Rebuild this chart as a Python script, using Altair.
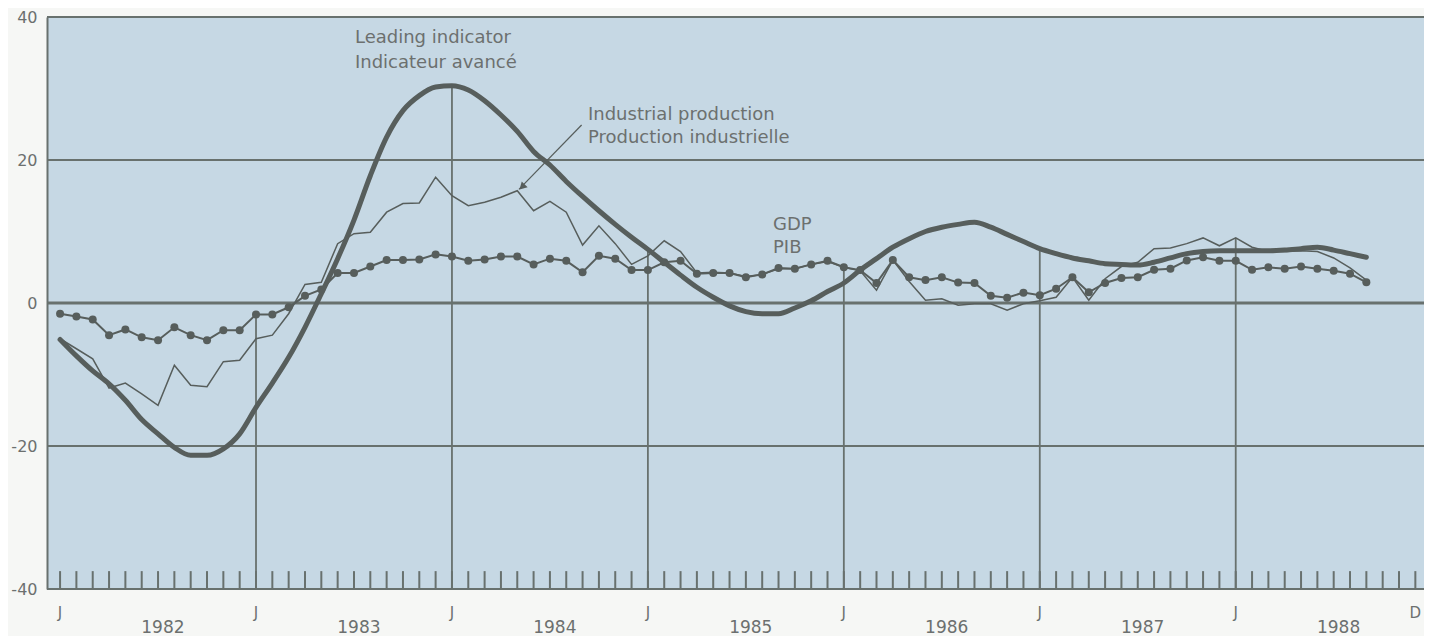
import altair as alt
import pandas as pd

# ---------------- data (month index 0 = Jan 1982) ----------------
MONTHS = list(range(81))

LEADING = [-5.1, -7.4, -9.5, -11.3, -13.6, -16.3, -18.3, -20.2, -21.3, -21.3,
           -20.4, -18.3, -14.6, -11.2, -7.6, -3.4, 1.3, 6.2, 11.6, 17.8,
           23.2, 26.9, 29.0, 30.2, 30.4, 29.8, 28.3, 26.3, 24.0, 21.2,
           19.3, 17.0, 14.9, 12.9, 11.0, 9.2, 7.5, 5.7, 3.9, 2.2,
           0.8, -0.4, -1.2, -1.5, -1.5, -0.7, 0.3, 1.6, 2.8, 4.6,
           6.2, 7.8, 9.0, 10.0, 10.6, 11.0, 11.3, 10.6, 9.6, 8.6,
           7.6, 6.9, 6.3, 5.9, 5.5, 5.4, 5.3, 5.7, 6.3, 6.9,
           7.2, 7.3, 7.3, 7.3, 7.3, 7.4, 7.6, 7.8, 7.4, 6.9,
           6.4]

INDUSTRIAL = [-5.0, -6.4, -7.8, -11.9, -11.2, -12.7, -14.3, -8.7, -11.5, -11.7,
              -8.2, -8.0, -5.0, -4.5, -1.5, 2.6, 2.9, 8.3, 9.7, 9.9,
              12.7, 13.9, 14.0, 17.6, 15.0, 13.6, 14.1, 14.8, 15.7, 12.9,
              14.2, 12.7, 8.1, 10.8, 8.3, 5.4, 6.6, 8.7, 7.2, 4.2,
              4.3, 4.2, 3.7, 4.0, 4.8, 4.8, 5.4, 5.8, 5.0, 4.5,
              1.8, 6.0, 3.0, 0.4, 0.6, -0.3, -0.1, -0.1, -1.0, -0.1,
              0.3, 0.8, 3.6, 0.4, 3.4, 5.1, 5.7, 7.6, 7.7, 8.3,
              9.1, 8.0, 9.1, 7.8, 7.2, 7.2, 7.3, 7.2, 6.3, 4.9,
              3.2]

GDP = [-1.5, -1.9, -2.3, -4.5, -3.7, -4.8, -5.2, -3.4, -4.5, -5.2,
       -3.8, -3.8, -1.6, -1.6, -0.6, 1.0, 1.9, 4.2, 4.2, 5.1,
       6.0, 6.0, 6.1, 6.8, 6.5, 5.9, 6.1, 6.5, 6.5, 5.4,
       6.2, 5.9, 4.3, 6.6, 6.2, 4.6, 4.6, 5.7, 5.9, 4.1,
       4.2, 4.2, 3.6, 4.0, 4.9, 4.8, 5.4, 5.9, 5.0, 4.6,
       2.8, 6.0, 3.6, 3.2, 3.6, 2.85, 2.8, 1.0, 0.75, 1.45,
       1.1, 2.0, 3.6, 1.5, 2.8, 3.5, 3.6, 4.65, 4.8, 5.95,
       6.4, 5.9, 5.9, 4.65, 5.0, 4.8, 5.1, 4.8, 4.5, 4.1,
       2.9]

Y_TICKS = [-40, -20, 0, 20, 40]
GRID_LEVELS = [-20, 20]
ZERO_LEVEL = [0]
FRAME_LEVELS = [40, -40]

TICK_MONTHS = list(range(84))
JAN_LINES = [12, 24, 36, 48, 60, 72]
X_MARK_POS = [0, 12, 24, 36, 48, 60, 72, 83]
X_MARK_TEXT = ["J", "J", "J", "J", "J", "J", "J", "D"]
YEARS = ["1982", "1983", "1984", "1985", "1986", "1987", "1988"]
YEAR_POS = [6.3, 18.3, 30.3, 42.3, 54.3, 66.3, 78.3]

ANN_TEXT = ["Leading indicator", "Indicateur avancé",
            "Industrial production", "Production industrielle",
            "GDP", "PIB"]
ANN_X = [18.06, 18.06, 32.33, 32.33, 43.66, 43.66]
ANN_Y = [37.06, 33.57, 26.29, 23.08, 10.91, 7.69]

ARROW_X = [31.94]
ARROW_Y = [24.9]
ARROW_X2 = [28.1]
ARROW_Y2 = [15.9]
ARROW_HEAD_X = [28.35]
ARROW_HEAD_Y = [16.35]

# ---------------- style ----------------
W, H = 1377, 572
INK = "#575e5c"
GRID = "#68716e"
TXT = "#6c706f"
FONT = "DejaVu Sans"
PLOT_BG = "#c6d8e4"
PAGE_BG = "#f6f7f5"

xs = alt.Scale(domain=[-0.8, 83.53], nice=False, zero=False)
ys = alt.Scale(domain=[-40, 40], nice=False, zero=False)
yaxis = alt.Axis(values=Y_TICKS, title=None, ticks=False, grid=False,
                 domain=True, domainColor=GRID, domainWidth=2,
                 labelFont=FONT, labelFontSize=16, labelColor=TXT,
                 labelPadding=10, labelExpr="'' + datum.value")


def X(field="m"):
    return alt.X(f"{field}:Q", scale=xs, axis=None)


def Y(field="v"):
    return alt.Y(f"{field}:Q", scale=ys, axis=yaxis)


series = pd.DataFrame({"m": MONTHS, "lead": LEADING, "ip": INDUSTRIAL, "gdp": GDP})

grid = alt.Chart(pd.DataFrame({"v": GRID_LEVELS})).mark_rule(
    color=GRID, strokeWidth=1.8).encode(y=Y())
zero = alt.Chart(pd.DataFrame({"v": ZERO_LEVEL})).mark_rule(
    color=GRID, strokeWidth=3.2).encode(y=Y())
frame = alt.Chart(pd.DataFrame({"v": FRAME_LEVELS})).mark_rule(
    color=GRID, strokeWidth=2).encode(y=Y())

jan_top = [max(LEADING[m], INDUSTRIAL[m], GDP[m]) for m in JAN_LINES]
jan = alt.Chart(pd.DataFrame({"m": JAN_LINES, "v": [-40] * len(JAN_LINES), "top": jan_top})).mark_rule(
    color=GRID, strokeWidth=1.8).encode(x=X(), y=Y(), y2="top:Q")

ticks = alt.Chart(pd.DataFrame({"m": TICK_MONTHS, "v": [-40] * len(TICK_MONTHS),
                                "top": [-37.5] * len(TICK_MONTHS)})).mark_rule(
    color=GRID, strokeWidth=2).encode(x=X(), y=Y(), y2="top:Q")

ip_line = alt.Chart(series).mark_line(color=INK, strokeWidth=1.5, strokeJoin="miter").encode(
    x=X(), y=Y("ip"))
gdp_line = alt.Chart(series).mark_line(
    color=INK, strokeWidth=2,
    point=alt.OverlayMarkDef(filled=True, size=64, color=INK, opacity=1)).encode(
    x=X(), y=Y("gdp"))
lead_line = alt.Chart(series).mark_line(
    color=INK, strokeWidth=5, interpolate="monotone", strokeCap="round").encode(
    x=X(), y=Y("lead"))

ann = alt.Chart(pd.DataFrame({"m": ANN_X, "v": ANN_Y, "t": ANN_TEXT})).mark_text(
    align="left", baseline="middle", font=FONT, fontSize=18, color=TXT).encode(
    x=X(), y=Y(), text="t:N")

arrow = alt.Chart(pd.DataFrame({"m": ARROW_X, "v": ARROW_Y, "m2": ARROW_X2, "v2": ARROW_Y2})).mark_rule(
    color=INK, strokeWidth=1.2).encode(x=X(), y=Y(), x2="m2:Q", y2="v2:Q")
head = alt.Chart(pd.DataFrame({"m": ARROW_HEAD_X, "v": ARROW_HEAD_Y})).mark_point(
    shape="triangle", angle=225, size=70, filled=True, color=INK, opacity=1).encode(
    x=X(), y=Y())

xmarks = alt.Chart(pd.DataFrame({"m": X_MARK_POS, "t": X_MARK_TEXT})).mark_text(
    align="center", baseline="middle", font=FONT, fontSize=15, color=TXT).encode(
    x=X(), y=alt.value(H + 24), text="t:N")
years = alt.Chart(pd.DataFrame({"m": YEAR_POS, "t": YEARS})).mark_text(
    align="center", baseline="middle", font=FONT, fontSize=17, color=TXT).encode(
    x=X(), y=alt.value(H + 39), text="t:N")

chart = alt.layer(
    grid, frame, zero, jan, ticks, ip_line, gdp_line, lead_line,
    arrow, head, ann, xmarks, years
).properties(
    width=W, height=H,
    padding={"left": 39, "top": 9, "right": 0, "bottom": 47},
    autosize=alt.AutoSizeParams(type="none"),
    background=PAGE_BG,
).configure_view(fill=PLOT_BG, stroke=None)

chart.save("out.html", embed_options={"renderer": "svg", "actions": False})
